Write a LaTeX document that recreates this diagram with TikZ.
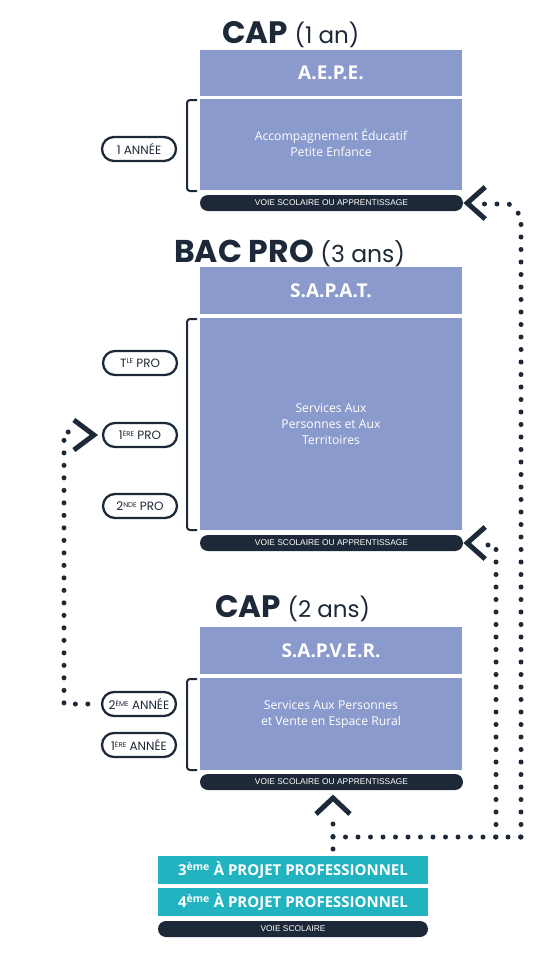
\documentclass[tikz,border=0pt]{standalone}
\usepackage{fontspec}
\setmainfont{Open Sans}
\newfontfamily\popf{Poppins}
\newfontfamily\arf{Liberation Sans}
\usetikzlibrary{calc}
\definecolor{peri}{HTML}{8A9ACC}
\definecolor{teal2}{HTML}{21B3C0}
\definecolor{ink}{HTML}{1D2938}
\newcommand\smup[1]{\raisebox{0.5ex}{\fontsize{7}{7}\selectfont #1}}
\begin{document}
\begin{tikzpicture}[x=1pt,y=-1pt,
  hdr/.style={fill=peri, minimum width=262pt, inner sep=0, text=white, font=\fontsize{19}{19}\selectfont\bfseries},
  bodybox/.style={fill=peri, minimum width=262pt, inner sep=0, text=white, align=center, font=\fontsize{12.2}{16}\selectfont},
  voie/.style={fill=ink, rounded corners=8pt, minimum height=16pt, inner sep=0, text=white, font=\arf\fontsize{8.4}{8.4}\selectfont},
  pill/.style={draw=ink, line width=2.3pt, rounded corners=12pt, minimum width=74pt, minimum height=24pt, inner sep=0, text=ink, font=\popf\fontsize{12}{12}\selectfont},
  ttl/.style={anchor=base west, inner sep=0, text=ink},
  tealbox/.style={fill=teal2, minimum width=270pt, minimum height=28pt, inner sep=0, text=white, font=\fontsize{15}{15}\selectfont\bfseries},
  chev/.style={draw=ink, line width=5pt, line cap=butt, line join=miter},
  dotline/.style={draw=ink, line width=5pt, line cap=round, dash pattern=on 0pt off 12.5pt},
  brack/.style={draw=ink, line width=2pt, rounded corners=3pt}
]
\useasboundingbox[fill=white] (0,0) rectangle (551,954);

% ---------- CAP (1 an)
\node[ttl] (t1) at (222,43) {\popf\fontsize{31}{31}\selectfont\bfseries CAP \fontsize{23}{23}\selectfont\mdseries(1 an)};
\node[hdr, minimum height=46pt] (h1) at (331,73) {A.E.P.E.};
\node[bodybox, minimum height=91pt] (b1) at (331,144.5) {};
\node[text=white, align=center, font=\fontsize{12.2}{16}\selectfont] (b1t) at (331,143) {Accompagnement Éducatif\\Petite Enfance};
\node[voie, minimum width=263pt] (v1) at (331.5,203) {VOIE SCOLAIRE OU APPRENTISSAGE};
\draw[brack] (197,100) -- (187,100) -- (187,191) -- (197,191);
\node[pill] (p1) at (139,149) {1 ANNÉE};

% ---------- BAC PRO (3 ans)
\node[ttl] (t2) at (174,262) {\popf\fontsize{31.5}{31.5}\selectfont\bfseries BAC PRO \fontsize{23.5}{23.5}\selectfont\mdseries(3 ans)};
\node[hdr, minimum height=47pt] (h2) at (331,290.5) {S.A.P.A.T.};
\node[bodybox, minimum height=212pt] (b2) at (331,424) {Services Aux\\Personnes et Aux\\Territoires};
\node[voie, minimum width=263pt] (v2) at (331.5,543) {VOIE SCOLAIRE OU APPRENTISSAGE};
\draw[brack] (197,319) -- (187,319) -- (187,530) -- (197,530);
\node[pill] (pT) at (140,363) {T\smup{LE} PRO};
\node[pill] (p1e) at (140,435) {1\smup{ÈRE} PRO};
\node[pill] (p2n) at (140,506) {2\smup{NDE} PRO};

% ---------- CAP (2 ans)
\node[ttl] (t3) at (215,617) {\popf\fontsize{31}{31}\selectfont\bfseries CAP \fontsize{23}{23}\selectfont\mdseries(2 ans)};
\node[hdr, minimum height=47pt] (h3) at (331,650.5) {S.A.P.V.E.R.};
\node[bodybox, minimum height=92pt] (b3) at (331,724) {};
\node[text=white, align=center, font=\fontsize{12.2}{16}\selectfont] (b3t) at (331,714) {Services Aux Personnes\\et Vente en Espace Rural};
\node[voie, minimum width=263pt] (v3) at (331.5,782) {VOIE SCOLAIRE OU APPRENTISSAGE};
\draw[brack] (197,679) -- (187,679) -- (187,770) -- (197,770);
\node[pill] (p2a) at (139,704) {2\smup{ÈME} ANNÉE};
\node[pill] (p1a) at (139,745) {1\smup{ÈRE} ANNÉE};

% ---------- bottom
\node[tealbox] (k3) at (293,870) {3\textsuperscript{ème} À PROJET PROFESSIONNEL};
\node[tealbox] (k4) at (293,902) {4\textsuperscript{ème} À PROJET PROFESSIONNEL};
\node[voie, minimum width=270pt] (v4) at (293,929) {VOIE SCOLAIRE};

% ---------- chevrons
\draw[chev] ($(v1.east)+(22,-16)$) -- ($(v1.east)+(4,0)$) -- ($(v1.east)+(22,16)$);
\draw[chev] ($(v2.east)+(22,-16)$) -- ($(v2.east)+(4,0)$) -- ($(v2.east)+(22,16)$);
\draw[chev] ($(p1e.west)+(-28,-15)$) -- ($(p1e.west)+(-8,0)$) -- ($(p1e.west)+(-28,15)$);
\coordinate (up) at (333,798);
\draw[chev] ($(up)+(-17,16)$) -- (up) -- ($(up)+(17,16)$);

% ---------- dotted connectors
\coordinate (bot) at (333,849);
\coordinate (rowL) at (333,837);
\coordinate (c1) at (521,837);
\coordinate (c2) at (496,837);
\draw[dotline] (bot) -- (333,812);
\draw[dotline] (rowL) -- (c1);
\draw[dotline] (c1) -- (521,216) -- (509,204) -- ($(v1.east)+(19,1)$);
\draw[dotline] (c2) -- (496,545) -- ($(v2.east)+(19,2)$);
\draw[dotline] ($(p2a.west)+(-13,0)$) -- (64,704) -- (64,432) -- ($(p1e.west)+(-24,-3)$);
\end{tikzpicture}
\end{document}
